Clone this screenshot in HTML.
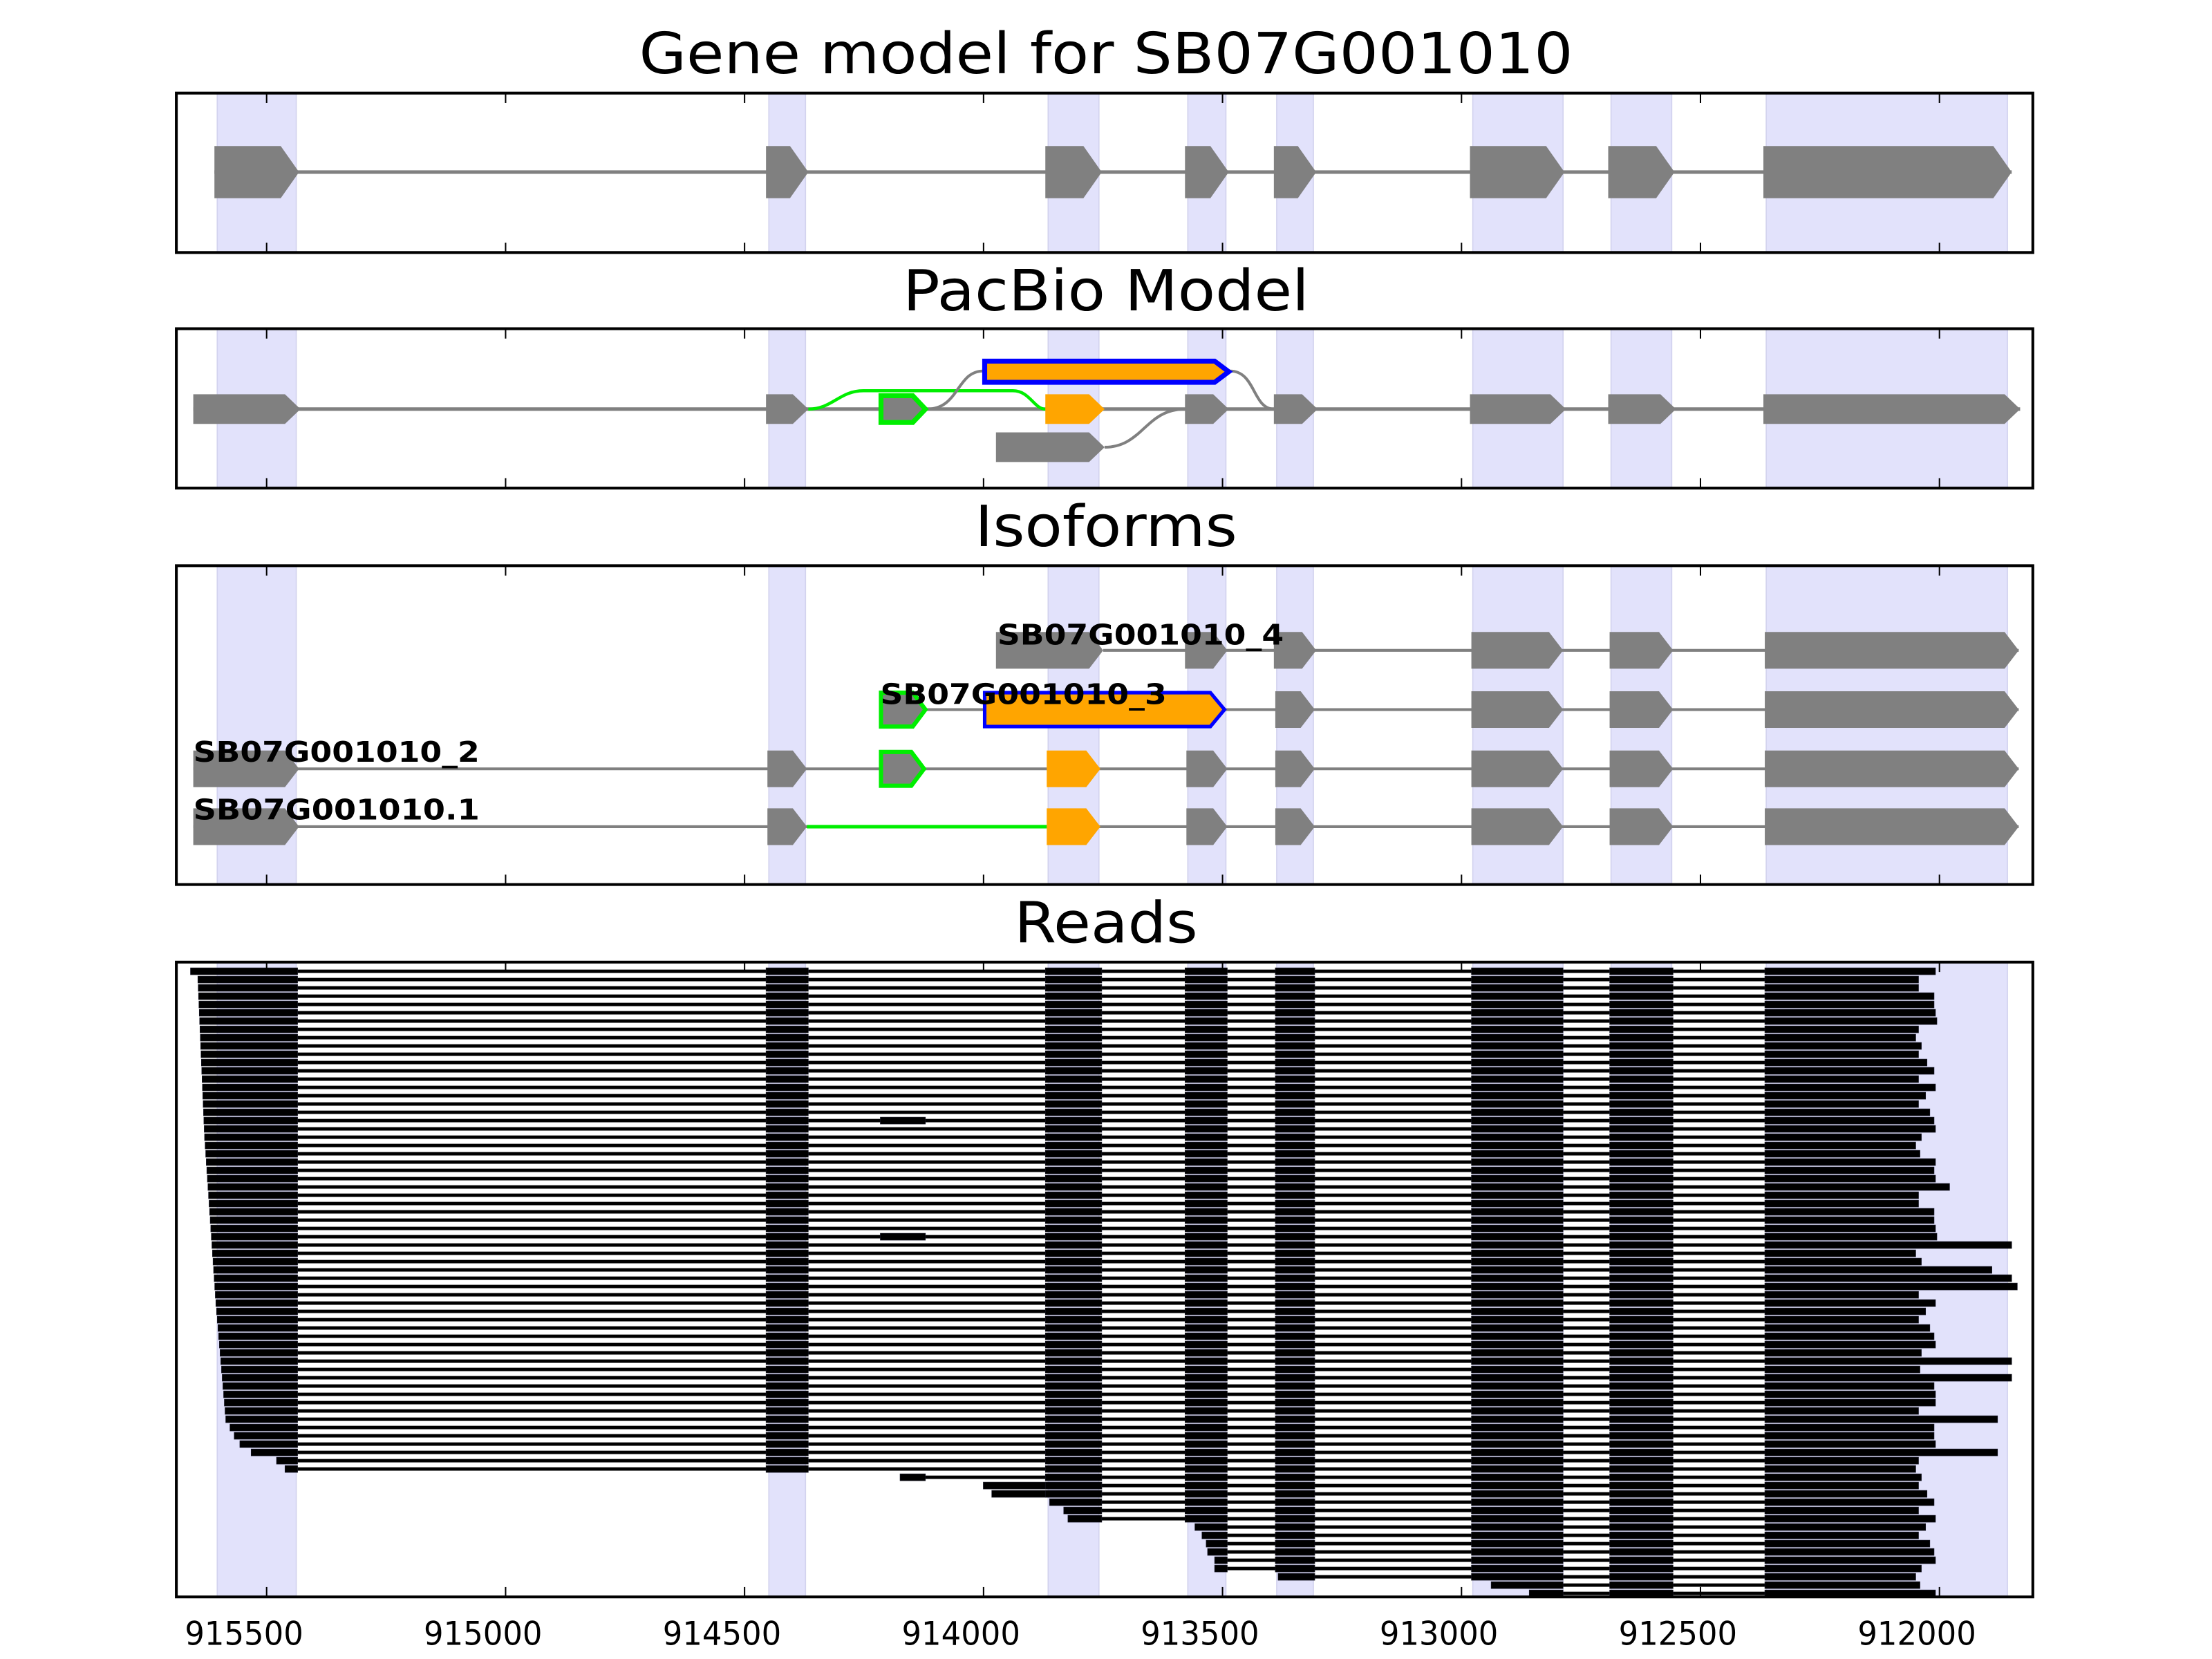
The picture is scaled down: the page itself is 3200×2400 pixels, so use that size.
<!DOCTYPE html>
<html><head><meta charset="utf-8"><style>html,body{margin:0;padding:0;background:#fff}svg{display:block}</style></head>
<body>
<svg id="s" xmlns="http://www.w3.org/2000/svg" width="3200" height="2400" viewBox="0 0 1568 1176" font-family="DejaVu Sans, Liberation Sans, sans-serif">
<rect width="1568" height="1176" fill="#fff"/>
<g id="g"></g>
</svg>
<script>
const g=document.getElementById('g');let h='';
const bands=[[154,210],[545,571],[743,779],[842,869],[905,931],[1044,1108],[1142,1185],[1252,1423]];
const panels=[[66,179],[233,346],[401,627],[682,1132]];
const ticks=[189,358.4,527.8,697.2,866.6,1036,1205.4,1374.8];
function ex(x1,x2,y,hh,fill,t,stroke,sw){t=t||Math.min(12,(x2-x1)*0.6);
 return `<polygon points="${x1},${y-hh/2} ${x2-t},${y-hh/2} ${x2},${y} ${x2-t},${y+hh/2} ${x1},${y+hh/2}" fill="${fill}" ${stroke?`stroke="${stroke}" stroke-width="${sw}"`:''}/>`;}
function ln(x1,x2,y,c,w){return `<line x1="${x1}" x2="${x2}" y1="${y}" y2="${y}" stroke="${c||'#808080'}" stroke-width="${w||2}"/>`;}
const G='#808080',O='#ffa500',GR='#00ee00',B='#0000ff';
for(const [a,b] of panels)for(const [x1,x2] of bands)h+=`<rect x="${x1}" y="${a}" width="${x2-x1}" height="${b-a}" fill="#e2e2fb" stroke="#d2d2ee" stroke-width="0.8"/>`;
const T=[["Gene model for SB07G001010",52,662],["PacBio Model",220,288],["Isoforms",387,186],["Reads",668,130]];
for(const [t,y,w] of T)h+=`<text x="784" y="${y}" font-size="40" text-anchor="middle" textLength="${w}" lengthAdjust="spacingAndGlyphs">${t}</text>`;
const ex1=[[152,212],[543,573],[741,781],[840,871],[903,933],[1042,1109],[1140,1187],[1250,1426]];
h+=ln(152,1426,122,G,2.5);
for(const [a,b] of ex1)h+=ex(a,b,122,37,G,13);
h+=ln(137,1432,290,G,2.5);
h+=`<path d="M573,290 C590,290 595,277 612,277 L718,277 C730,277 733,290 741,290" fill="none" stroke="${GR}" stroke-width="2.2"/>`;
h+=`<path d="M657,290 C680,290 678,263 697,263" fill="none" stroke="${G}" stroke-width="2"/>`;
h+=`<path d="M872,263 C890,263 888,290 903,290" fill="none" stroke="${G}" stroke-width="2"/>`;
h+=`<path d="M783,317 C810,317 812,290 840,290" fill="none" stroke="${G}" stroke-width="2"/>`;
for(const [a,b] of [[137,213],[543,573],[840,871],[903,934],[1042,1110],[1140,1188],[1250,1432]])h+=ex(a,b,290,21,G,11);
h+=ex(624.5,656,290,19,G,9,GR,3.5);
h+=ex(741,783,290,21,O,11);
h+=ex(698,871,263.5,15,O,10,B,3.5);
h+=ex(706,783,317,21,G,11);
const tail=[[1043,1108],[1141,1186],[1251,1431]];
let y=461;h+=ln(782,1431,y);for(const [a,b] of [[706,782],[840,870],[903,933],...tail])h+=ex(a,b,y,26,G,10);
y=503;h+=ln(657,1431,y);h+=ex(624.5,656,y,24,G,9,GR,3);h+=ex(698,868,y,24,O,10,B,2.5);for(const [a,b] of [[904,932],...tail])h+=ex(a,b,y,26,G,10);
y=545;h+=ln(137,1431,y);for(const [a,b] of [[137,212],[544,572],[841,870],[904,932],...tail])h+=ex(a,b,y,26,G,10);h+=ex(624.5,655,y,24,G,9,GR,3);h+=ex(742,780,y,26,O,10);
y=586;h+=ln(137,1431,y);h+=ln(572,742,y,GR,2.5);for(const [a,b] of [[137,212],[544,572],[841,870],[904,932],...tail])h+=ex(a,b,y,26,G,10);h+=ex(742,780,y,26,O,10);
const L=[["SB07G001010_4",707,457],["SB07G001010_3",624,499],["SB07G001010_2",137,540],["SB07G001010.1",137,581]];
for(const [t,x,yy] of L)h+=`<text x="${x}" y="${yy}" font-size="20" font-weight="bold" textLength="203" lengthAdjust="spacingAndGlyphs">${t}</text>`;
const N=76,y0=688.5,dy=5.88,bh=4.9;
const exR=[[543,573],[741,781],[840,870],[904,932],[1043,1108],[1141,1186]];
const longs={26:1382,33:1426,36:1412,37:1426,38:1430,47:1426,49:1426,54:1416,58:1416};
const base=[1372,1360,1360,1371,1371,1372,1373,1360,1358,1362,1360,1366,1371,1360,1372,1365,1360,1368,1371,1372,1362,1358,1361,1372,1371,1372];
let rd='';
for(let i=0;i<N;i++){const yy=y0+i*dy;
 let end=longs[i]||base[i%base.length];
 let start,blocks=[];
 if(i<=60){start= i==0?135: i<20?140+i*0.25: i<40?145+(i-20)*0.4: i<55?153+(i-40)*0.5: [163,166,170,178,196,202][i-55]||202;
   blocks.push([start,211]);for(const e of exR)blocks.push(e);
   if(i==18||i==32)blocks.push([624,656]);}
 else{const st=[[638,'b'],[697,'l'],[703,'b'],[744,'b'],[754,'b'],[757,'b'],[847,'b'],[852,'b'],[855,'b'],[856,'b'],[861,'b'],[861,'b'],[906,'b'],[1057,'b'],[1084,'b']][i-61];
   start=st[0];
   if(start==638)blocks.push([638,656]);
   if(start>=697&&start<741)blocks.push([start,781]);
   for(const e of exR){if(e[1]>start){blocks.push([Math.max(e[0],start),e[1]]);}}
 }
 blocks.push([1251,end]);
 rd+=`<rect x="${start}" y="${yy-1.2}" width="${end-start}" height="2.4" fill="#000"/>`;
 for(const [a,b] of blocks)rd+=`<rect x="${a}" y="${yy-bh/2}" width="${b-a}" height="${bh}" fill="#000" stroke="#1a1a2a" stroke-width="0.3"/>`;
}
h+=rd;
for(const [a,b] of panels){h+=`<rect x="125" y="${a}" width="1316" height="${b-a}" fill="none" stroke="#000" stroke-width="2"/>`;
 for(const t of ticks)h+=`<line x1="${t}" x2="${t}" y1="${a}" y2="${a+7}" stroke="#000" stroke-width="1"/><line x1="${t}" x2="${t}" y1="${b}" y2="${b-7}" stroke="#000" stroke-width="1"/>`;}
const lab=["915500","915000","914500","914000","913500","913000","912500","912000"];
ticks.forEach((t,i)=>h+=`<text x="${t-16}" y="1166" font-size="23" text-anchor="middle" textLength="84" lengthAdjust="spacingAndGlyphs">${lab[i]}</text>`);
g.innerHTML=h;
</script>
</body></html>
